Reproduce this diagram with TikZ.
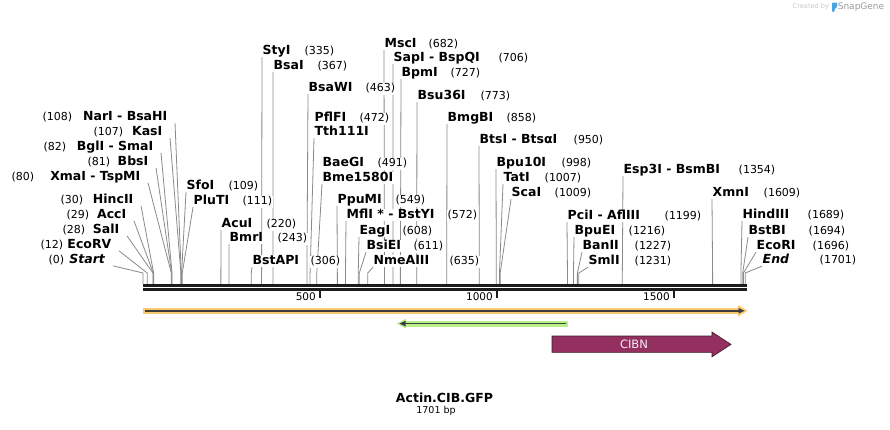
\documentclass[tikz,border=0pt]{standalone}
\usepackage{fontspec}
\setmainfont{DejaVu Sans}
\usetikzlibrary{calc}
\pgfdeclarelayer{back}
\pgfdeclarelayer{bg}
\pgfsetlayers{back,bg,main}
\definecolor{cutgray}{RGB}{138,138,138}
\definecolor{orangef}{RGB}{250,200,112}
\definecolor{greenf}{RGB}{182,240,134}
\definecolor{cibn}{RGB}{147,48,96}
\definecolor{cibnedge}{RGB}{60,25,40}
\definecolor{featline}{RGB}{60,60,60}
\definecolor{rulerc}{RGB}{28,28,28}
\definecolor{logoblue}{RGB}{70,165,225}
\tikzset{
  ename/.style={inner xsep=0.5pt, inner ysep=0.5pt, fill=white, text height=9.3pt, text depth=2pt,
    font=\fontsize{12.5}{14}\selectfont\bfseries},
  enum/.style={inner xsep=0.5pt, inner ysep=0.5pt, fill=white, text height=8.5pt, text depth=2.5pt,
    font=\fontsize{11}{13}\selectfont},
  cutline/.style={draw=cutgray, line width=0.8pt},
  ticklab/.style={inner sep=0pt, font=\fontsize{10.5}{12}\selectfont},
}
\newcommand{\labR}[6]{%
  \node[ename, anchor=base west] (#1) at (#2,{#3+4.5}) {#4};
  \node[enum, anchor=base west] (#1n) at (#5,{#3+4.5}) {(#6)};
}
\newcommand{\cutR}[2]{%
  \coordinate (#1s) at ({143+0.354*#2},284);
  \begin{pgfonlayer}{bg}
    \draw[cutline] (#1.south west) -- ([yshift=11pt]#1s) -- (#1s);
  \end{pgfonlayer}
}
\newcommand{\labL}[7]{%
  \node[ename, anchor=base east] (#1) at (#2,{#3+4.5}) {#4};
  \node[enum, anchor=base west] (#1n) at (#5,{#3+4.5}) {(#6)};
  \coordinate (#1s) at ({143+0.354*#7},284);
  \begin{pgfonlayer}{bg}
    \draw[cutline] ([xshift=7pt,yshift=-6pt]#1.east) -- ([yshift=11pt]#1s) -- (#1s);
  \end{pgfonlayer}
}
\begin{document}
\begin{tikzpicture}[x=1pt,y=-1pt]
\begin{pgfonlayer}{back}
  \fill[white] (0,0) rectangle (890,429);
\end{pgfonlayer}
\useasboundingbox (0,0) rectangle (890,429);

% ---------- left labels ----------
\labL{narI}{168}{116}{NarI - BsaHI}{42}{108}{108}
\labL{kasI}{163}{131}{KasI}{93}{107}{107}
\labL{bglI}{154}{146}{BglI - SmaI}{43}{82}{82}
\labL{bbsI}{149}{161}{BbsI}{87}{81}{81}
\labL{xmaI}{141}{176}{XmaI - TspMI}{11}{80}{80}
\labL{hincII}{134}{199}{HincII}{60}{30}{30}
\labL{accI}{127}{214}{AccI}{66}{29}{29}
\labL{salI}{120}{229}{SalI}{62}{28}{28}
\labL{ecoRV}{112}{244}{EcoRV}{40}{12}{12}
\labL{start}{106}{259}{\textit{Start}}{48}{0}{0}

% ---------- right-side labels ----------
\labR{sfoI}{186}{185}{SfoI}{228}{109}\cutR{sfoI}{109}
\labR{pluTI}{193}{200}{PluTI}{242}{111}\cutR{pluTI}{111}
\labR{acuI}{221}{223}{AcuI}{266}{220}\cutR{acuI}{220}
\labR{bmrI}{229}{237}{BmrI}{277}{243}\cutR{bmrI}{243}
\labR{bstAPI}{252}{260}{BstAPI}{310}{306}\cutR{bstAPI}{306}
\labR{styI}{262}{50}{StyI}{304}{335}\cutR{styI}{335}
\labR{bsaI}{273}{65}{BsaI}{317}{367}\cutR{bsaI}{367}
\labR{bsaWI}{308}{87}{BsaWI}{365}{463}\cutR{bsaWI}{463}
\labR{pflFI}{314}{117}{PflFI}{359}{472}
\node[ename, anchor=base west] (tth) at (314,{131+4.5}) {Tth111I};
\cutR{tth}{472}
\labR{baeGI}{322}{162}{BaeGI}{377}{491}
\node[ename, anchor=base west] (bme) at (322,{177+4.5}) {Bme1580I};
\cutR{bme}{491}
\labR{ppuMI}{337}{199}{PpuMI}{395}{549}\cutR{ppuMI}{549}
\labR{mflI}{346}{214}{MflI * - BstYI}{447}{572}\cutR{mflI}{572}
\labR{eagI}{359}{230}{EagI}{402}{608}\cutR{eagI}{608}
\labR{bsiEI}{366}{245}{BsiEI}{413}{611}\cutR{bsiEI}{611}
\labR{nmeAIII}{373}{260}{NmeAIII}{449}{635}\cutR{nmeAIII}{635}
\labR{mscI}{384}{43}{MscI}{428}{682}\cutR{mscI}{682}
\labR{sapI}{393}{57}{SapI - BspQI}{498}{706}\cutR{sapI}{706}
\labR{bpmI}{401}{72}{BpmI}{450}{727}\cutR{bpmI}{727}
\labR{bsu}{417}{95}{Bsu36I}{480}{773}\cutR{bsu}{773}
\labR{bmgBI}{447}{117}{BmgBI}{506}{858}\cutR{bmgBI}{858}
\labR{btsI}{479}{139}{BtsI - BtsαI}{573}{950}\cutR{btsI}{950}
\labR{bpu}{496}{162}{Bpu10I}{561}{998}\cutR{bpu}{998}
\labR{tatI}{503}{177}{TatI}{544}{1007}\cutR{tatI}{1007}
\labR{scaI}{511}{192}{ScaI}{554}{1009}\cutR{scaI}{1009}
\labR{pciI}{567}{215}{PciI - AflIII}{664}{1199}\cutR{pciI}{1199}
\labR{bpuEI}{574}{230}{BpuEI}{628}{1216}\cutR{bpuEI}{1216}
\labR{banII}{582}{245}{BanII}{634}{1227}\cutR{banII}{1227}
\labR{smlI}{588}{260}{SmlI}{634}{1231}\cutR{smlI}{1231}
\labR{esp}{623}{169}{Esp3I - BsmBI}{738}{1354}\cutR{esp}{1354}
\labR{xmnI}{712}{192}{XmnI}{763}{1609}\cutR{xmnI}{1609}
\labR{hind}{742}{214}{HindIII}{807}{1689}\cutR{hind}{1689}
\labR{bstBI}{748}{230}{BstBI}{808}{1694}\cutR{bstBI}{1694}
\labR{ecoRI}{756}{245}{EcoRI}{812}{1696}\cutR{ecoRI}{1696}
\labR{endL}{762}{259}{\textit{End}}{819}{1701}\cutR{endL}{1701}

% ---------- ruler ----------
\draw[rulerc, line width=2.6pt] (143,285.3) -- (746.5,285.3);
\draw[rulerc, line width=2.4pt] (143,289.5) -- (746.5,289.5);
\foreach \p in {500,1000,1500}{
  \draw[rulerc, line width=2pt] ({143+0.354*\p},289) -- ({143+0.354*\p},297.5);
  \node[ticklab, anchor=east] (t\p) at ({143+0.354*\p-4},296.5) {\p};
}

% ---------- features ----------
\fill[orangef] (143,307.8) rectangle (739,313.8);
\fill[orangef] (738,305) -- (747.3,310.8) -- (738,316.6) -- cycle;
\draw[featline, line width=1.5pt] (145,310.8) -- (740,310.8);
\fill[featline] (738.5,308) -- (744.5,310.8) -- (738.5,313.6) -- cycle;

\fill[greenf] (405,320.7) rectangle (567.7,326.5);
\fill[greenf] (406,318.8) -- (396.7,323.6) -- (406,328.4) -- cycle;
\draw[featline, line width=1.5pt] (404,323.6) -- (566,323.6);
\fill[featline] (405.5,320.8) -- (399.5,323.6) -- (405.5,326.4) -- cycle;

\draw[cibnedge, fill=cibn, line width=0.6pt]
  (552,336) -- (712,336) -- (712,332) -- (731,344.4) -- (712,356.8) -- (712,352.4) -- (552,352.4) -- cycle;
\node[inner sep=0pt, text=white!92!cibn, font=\fontsize{11.5}{13}\selectfont] (cibnlab) at (634,344.3) {CIBN};

% ---------- title ----------
\node[inner sep=0pt, font=\fontsize{12.5}{14}\selectfont\bfseries] (title) at (444.5,397.5) {Actin.CIB.GFP};
\node[inner sep=0pt, font=\fontsize{9.5}{11}\selectfont] (len) at (436,411) {1701 bp};

% ---------- credit ----------
\node[inner sep=0pt, anchor=west, text=black!22, font=\fontsize{6.6}{8}\selectfont] (cred) at (792.5,7) {Created by};
\fill[logoblue, rounded corners=1pt] (832,2.5) -- (837,2.5) -- (837,7.5) -- (834.6,8.6) -- (834.6,12) -- (832,12) -- cycle;
\node[inner sep=0pt, anchor=west, text=black!40, font=\fontsize{9}{10}\selectfont] (snap) at (837.6,7) {SnapGene};
\end{tikzpicture}
\end{document}
